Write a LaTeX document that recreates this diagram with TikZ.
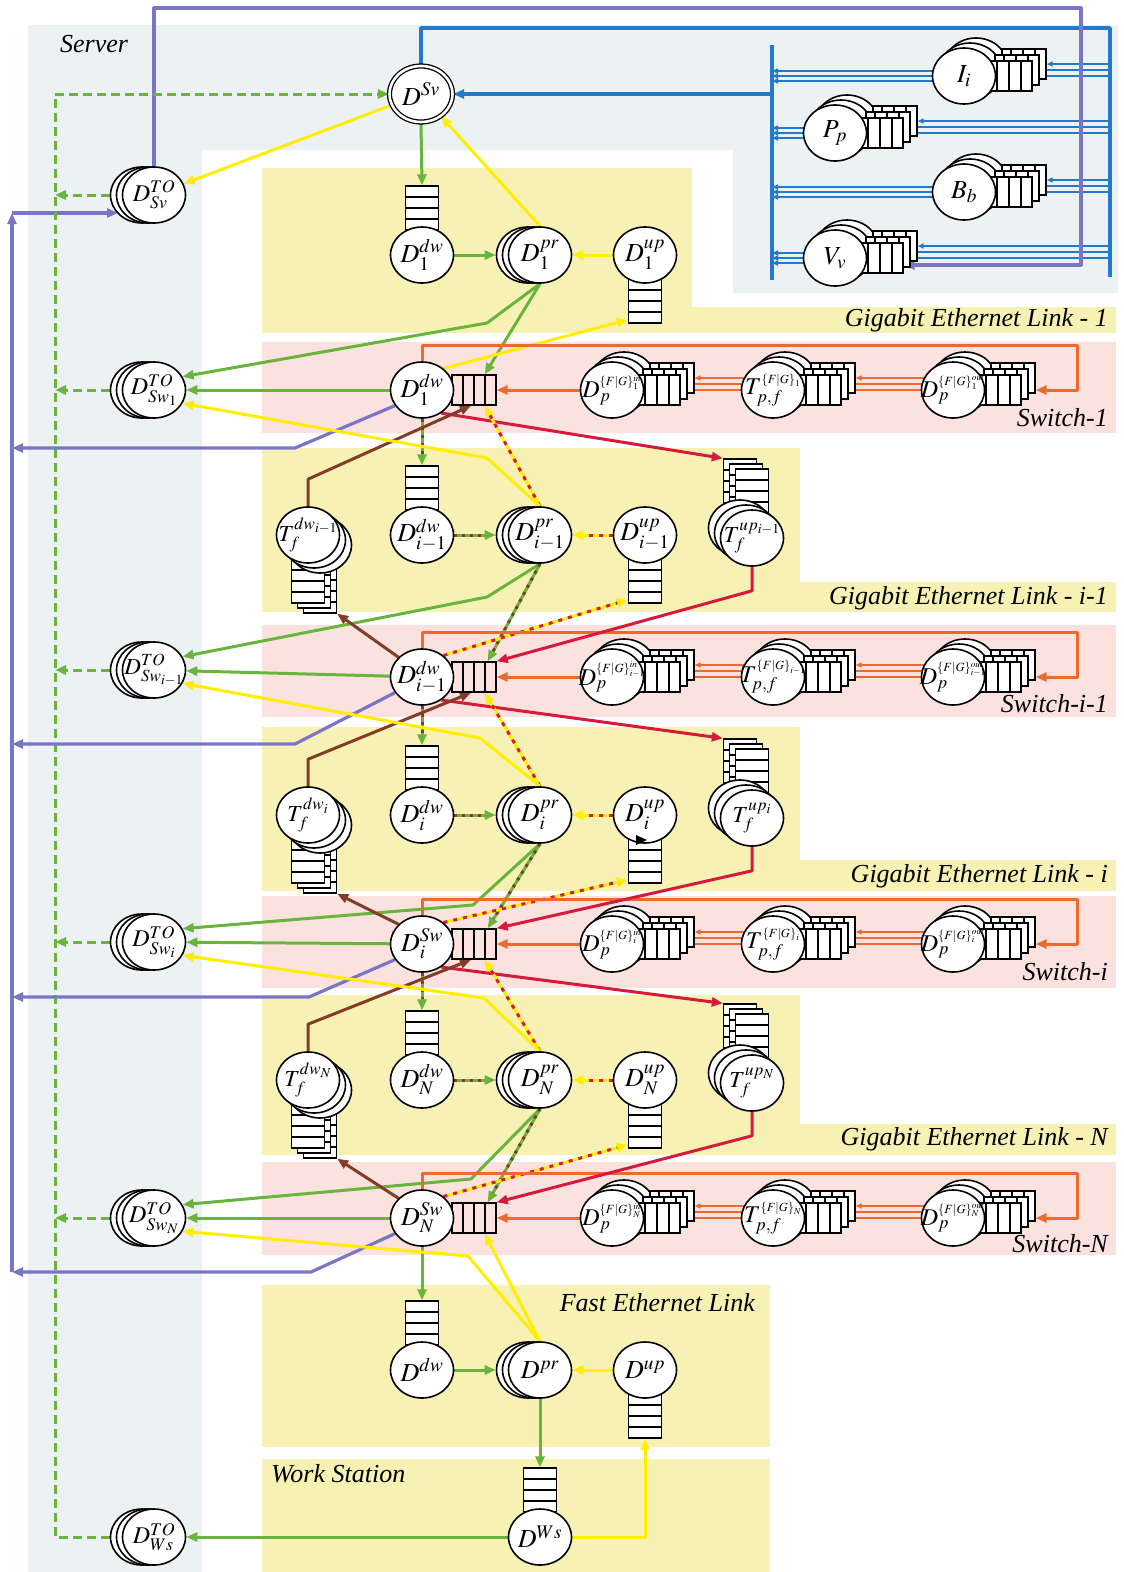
\documentclass[tikz,border=0pt]{standalone}
\usepackage{mathptmx}
\usepackage[no-math]{fontspec}
\setmainfont{Liberation Serif}
\usetikzlibrary{arrows.meta,shapes.geometric,calc}

\definecolor{cGreen}{RGB}{104,180,60}
\definecolor{cYel}{RGB}{255,238,0}
\definecolor{cPur}{RGB}{122,118,198}
\definecolor{cBlue}{RGB}{34,122,205}
\definecolor{cOr}{RGB}{237,106,46}
\definecolor{cRed}{RGB}{214,26,60}
\definecolor{cBr}{RGB}{132,60,40}
\definecolor{bgSrv}{RGB}{236,241,243}
\definecolor{bgYel}{RGB}{247,242,180}
\definecolor{bgPink}{RGB}{251,226,222}

\newcommand\nodefont{\fontsize{26}{28}\selectfont}
\newcommand\labfont{\fontsize{26}{28}\selectfont\itshape}
\newcommand\fsz[1]{\fontsize{#1}{#1}\selectfont}
% label that does not widen its ellipse
\newcommand\inlab[1]{\makebox[0pt]{#1}}
% small {F|G} superscript block of the switch stages
\newcommand\fgs[2]{\mbox{\fsz{12.5}$\{F|G\}^{#1}_{#2}$}}

\pgfdeclarelayer{boxes}
\pgfdeclarelayer{wires}
\pgfsetlayers{boxes,wires,main}

\tikzset{
  nd/.style={ellipse, draw, line width=1.6pt, fill=white, minimum width=63pt,
    minimum height=56pt, inner sep=0pt, font=\nodefont},
  dnd/.style={nd, double=white, double distance=2.6pt, line width=1.3pt},
  bkl/.style={draw, line width=1.6pt, fill=white},
  vq/.style={draw, line width=1.4pt, fill=white, minimum width=33pt, minimum height=44pt, inner sep=0pt,
    path picture={\foreach \k in {1,2,3}{\draw[line width=1.2pt]
      ([yshift={-11pt*\k}]path picture bounding box.north west) --
      ([yshift={-11pt*\k}]path picture bounding box.north east);}}},
  hq/.style={draw, line width=1.4pt, minimum width=44pt, minimum height=30pt, inner sep=0pt,
    path picture={\foreach \k in {1,2,3}{\draw[line width=1.2pt]
      ([xshift={11pt*\k}]path picture bounding box.north west) --
      ([xshift={11pt*\k}]path picture bounding box.south west);}}},
  sq/.style={draw, line width=1.4pt, fill=white, minimum width=44pt, minimum height=30pt, inner sep=0pt,
    path picture={\foreach \k in {9,21,33}{\draw[line width=1.2pt]
      ([xshift={1pt*\k}]path picture bounding box.north west) --
      ([xshift={1pt*\k}]path picture bounding box.south west);}}},
  lbl/.style={font=\labfont, inner sep=0pt},
  ahead/.style={-{Triangle[length=11pt,width=9pt]}},
  sahead/.style={-{Triangle[length=6pt,width=5pt]}},
  wr/.style={line width=3pt, line join=round},
  gA/.style={wr, draw=cGreen, ahead},
  yA/.style={wr, draw=cYel, ahead},
  pA/.style={wr, draw=cPur, line width=3.2pt, ahead},
  bA/.style={wr, draw=cBlue, line width=3.4pt},
  btA/.style={draw=cBlue, line width=1.6pt, sahead},
  oA/.style={wr, draw=cOr, ahead},
  otA/.style={draw=cOr, line width=1.4pt, sahead},
  rA/.style={wr, draw=cRed, ahead},
  brA/.style={wr, draw=cBr, ahead},
  gD/.style={wr, draw=cGreen, dash pattern=on 9pt off 5pt, ahead},
  gbA/.style={gA, postaction={draw=cBr, line width=3pt, dash pattern=on 3pt off 5pt, -, shorten >=11pt}},
  yrA/.style={yA, postaction={draw=cRed, line width=3pt, dash pattern=on 4pt off 6pt, -, shorten >=11pt}},
}

% node with a queue above it
\newcommand\plainup[4]{%
  \node[vq] (#1q) at (#2,#3-47) {};
  \node[nd] (#1) at (#2,#3) {\inlab{#4}};}
% node with a queue below it
\newcommand\plaindown[4]{%
  \node[vq] (#1q) at (#2,#3+46) {};
  \node[nd] (#1) at (#2,#3) {\inlab{#4}};}
% switch node with its input queue on the right
\newcommand\plainright[4]{%
  \node[hq] (#1q) at (#2+52,#3) {};
  \node[nd] (#1) at (#2,#3) {\inlab{#4}};}
% stacked node, copies behind to the left
\newcommand\stackleft[4]{%
  \foreach \d in {12,6}{\draw[bkl] (#2-\d,#3) ellipse[x radius=31.5pt, y radius=28pt];}
  \node[nd] (#1) at (#2,#3) {\inlab{#4}};}
% stacked node with stacked queues on the right, copies up-right
\newcommand\stackqueue[4]{%
  \foreach \d in {2,1}{%
    \draw[bkl] (#2+6*\d,#3-5*\d) ellipse[x radius=31.5pt, y radius=28pt];
    \node[sq] (#1q\d) at (#2+46+7*\d,#3-6*\d) {};}
  \node[sq] (#1q0) at (#2+46,#3) {};
  \node[nd] (#1) at (#2,#3) {\inlab{#4}};}
% downstream timer: stacked down-right, queues below
\newcommand\tdwstack[4]{%
  \foreach \d in {2,1}{\node[vq] (#1q\d) at (#2+6*\d,#3+46+5*\d) {};}
  \node[vq] (#1q0) at (#2,#3+46) {};
  \foreach \d in {2,1}{\draw[bkl] (#2+6*\d,#3+5*\d) ellipse[x radius=31.5pt, y radius=28pt];}
  \node[nd] (#1) at (#2,#3) {\inlab{#4}};}
% upstream timer: stacked up-left, queues above
\newcommand\tupstack[4]{%
  \foreach \d in {2,1}{\node[vq] (#1q\d) at (#2-6*\d,#3-47-5*\d) {};}
  \node[vq] (#1q0) at (#2,#3-47) {};
  \foreach \d in {2,1}{\draw[bkl] (#2-6*\d,#3-5*\d) ellipse[x radius=31.5pt, y radius=28pt];}
  \node[nd] (#1) at (#2,#3) {\inlab{#4}};}
% one gigabit link row (T_dw, D_dw, D_pr, D_up, T_up)
\newcommand\linkrow[3]{%
  \tdwstack{td#1}{308}{#2}{\fsz{23}$T_f^{dw_{#3}}$}
  \plainup{dw#1}{422}{#2}{$D_{#3}^{dw}$}
  \stackleft{pr#1}{540}{#2}{$D_{#3}^{pr}$}
  \plaindown{up#1}{645}{#2}{$D_{#3}^{up}$}
  \tupstack{tu#1}{752}{#2+3}{\fsz{23}$T_f^{up_{#3}}$}}
% one switch row
\newcommand\switchrow[4]{%
  \plainright{s#1}{422}{#2}{#3}
  \stackqueue{s#1in}{612}{#2}{\fsz{24}$D_p^{\fgs{in}{#4}}$}
  \stackqueue{s#1t}{773}{#2}{\fsz{24}$T_{p,f}^{\fgs{}{#4}}$}
  \stackqueue{s#1out}{953}{#2}{\fsz{24}$D_p^{\fgs{out}{#4}}$}}
% wiring inside a switch
\newcommand\switchwires[2]{%
  \draw[oA] (s#1.north) |- (1077,#2) |- (s#1outq2.east |- s#1.center);
  \draw[oA] (s#1in) -- (s#1q.east);
  \foreach \k in {0,1,2}{%
    \draw[otA] (s#1t.center |- s#1inq\k.east) -- (s#1inq\k.east);
    \draw[otA] (s#1out.center |- s#1tq\k.east) -- (s#1tq\k.east);}}

\begin{document}
\begin{tikzpicture}[x=1pt,y=-1pt]
\useasboundingbox (0,0) rectangle (1124,1572);

% ---------------- regions ----------------
\begin{pgfonlayer}{boxes}
\fill[bgSrv] (28,25) -- (1118,25) -- (1118,293) -- (733,293) -- (733,150)
  -- (202,150) -- (202,1572) -- (28,1572) -- cycle;
\fill[bgYel] (262,168) rectangle (692,333);
\fill[bgYel] (262,307) rectangle (1116,333);
\fill[bgPink] (262,342) rectangle (1116,433);
\fill[bgYel] (262,448) rectangle (800,612);
\fill[bgYel] (262,582) rectangle (1116,612);
\fill[bgPink] (262,625) rectangle (1116,717);
\fill[bgYel] (262,727) rectangle (800,891);
\fill[bgYel] (262,860) rectangle (1116,891);
\fill[bgPink] (262,896) rectangle (1116,988);
\fill[bgYel] (262,995) rectangle (800,1155);
\fill[bgYel] (262,1124) rectangle (1116,1155);
\fill[bgPink] (262,1162) rectangle (1116,1255);
\fill[bgYel] (262,1285) rectangle (770,1447);
\fill[bgYel] (262,1459) rectangle (770,1572);
\end{pgfonlayer}

% ---------------- captions ----------------
\node[lbl, anchor=west] (tServer) at (60,44) {Server};
\node[lbl, anchor=east] (tL1) at (1108,320) {Gigabit Ethernet Link - 1};
\node[lbl, anchor=east] (tS1) at (1108,418) {Switch-1};
\node[lbl, anchor=east] (tL2) at (1108,598) {Gigabit Ethernet Link - i-1};
\node[lbl, anchor=east] (tS2) at (1108,704) {Switch-i-1};
\node[lbl, anchor=east] (tL3) at (1108,876) {Gigabit Ethernet Link - i};
\node[lbl, anchor=east] (tS3) at (1108,972) {Switch-i};
\node[lbl, anchor=east] (tL4) at (1108,1139) {Gigabit Ethernet Link - N};
\node[lbl, anchor=east] (tS4) at (1108,1244) {Switch-N};
\node[lbl, anchor=east] (tLF) at (755,1303) {Fast Ethernet Link};
\node[lbl, anchor=west] (tWS) at (271,1474) {Work Station};

% ---------------- helper points ----------------
\coordinate (bTR) at (1110,28);
\coordinate (bBR) at (1110,277);
\coordinate (busT) at (772,45);
\coordinate (busB) at (772,280);
\coordinate (busD) at (772,94);
\coordinate (pTR) at (1081,8);
\coordinate (pvTop) at (12,213);
\coordinate (pvBot) at (12,1272);
\coordinate (gdTop) at (55,94);

% ---------------- server ----------------
\node[dnd] (Dsv) at (421,94) {\inlab{$D^{Sv}$}};
\stackleft{TOsv}{154}{195}{\fsz{24}$D^{TO}_{Sv}$}
\stackqueue{srcI}{964}{76}{$I_i$}
\stackqueue{srcP}{835}{133}{$P_p$}
\stackqueue{srcB}{964}{192}{$B_b$}
\stackqueue{srcV}{835}{258}{$V_v$}

% ---------------- links and switches ----------------
\plainup{dw1}{422}{255}{$D_1^{dw}$}
\stackleft{pr1}{540}{255}{$D_1^{pr}$}
\plaindown{up1}{645}{255}{$D_1^{up}$}

\switchrow{1}{390}{$D_1^{dw}$}{1}
\stackleft{TO1}{154}{390}{\fsz{24}$D^{TO}_{Sw_1}$}

\linkrow{2}{535}{i-1}
\switchrow{2}{677}{$D_{i-1}^{dw}$}{i-1}
\stackleft{TO2}{154}{670}{\fsz{23}$D^{TO}_{Sw_{i-1}}$}

\linkrow{3}{815}{i}
\switchrow{3}{944}{$D_i^{Sw}$}{i}
\stackleft{TO3}{154}{942}{\fsz{24}$D^{TO}_{Sw_i}$}

\linkrow{4}{1080}{N}
\switchrow{4}{1218}{$D_N^{Sw}$}{N}
\stackleft{TO4}{154}{1218}{\fsz{24}$D^{TO}_{Sw_N}$}

\plainup{dwf}{422}{1370}{$D^{dw}$}
\stackleft{prf}{540}{1370}{$D^{pr}$}
\plaindown{upf}{645}{1370}{$D^{up}$}

\plainup{ws}{540}{1537}{$D^{Ws}$}
\stackleft{TOws}{154}{1537}{\fsz{24}$D^{TO}_{Ws}$}

\fill (636,835) -- (647,840) -- (636,845) -- cycle;

% ---------------- connectors ----------------
\begin{pgfonlayer}{wires}
% server feeds
\draw[bA] (Dsv.north) |- (bTR) -- (bBR);
\draw[bA] (busT) -- (busB);
\draw[bA, ahead] (busD) -- (Dsv.east);
\foreach \src in {srcI,srcP,srcB,srcV}{%
  \foreach \dy in {-5,0,5}{%
    \path ($(\src.center)+(0,\dy)$) coordinate (tmpA);
    \draw[btA] (tmpA) -- (tmpA -| busT);}
  \foreach \k in {0,1,2}{\draw[btA] (\src q\k.east -| bTR) -- (\src q\k.east);}
}
\draw[pA] (TOsv.north) |- (pTR) |- ($(srcVq0.east)+(0,7)$);
\draw[pA] (pvBot) -- (pvTop);
\draw[pA] (pvTop) -- ([xshift=-36pt,yshift=-18pt]TOsv.center);
\draw[gD] ([xshift=-12pt]TOws.west) -| (gdTop) -- (Dsv.west);
\foreach \nn in {TOsv,TO1,TO2,TO3,TO4}{\draw[gD] ([xshift=-12pt]\nn.west) -- (\nn.west -| gdTop);}
\draw[gA] (Dsv.south) -- (dw1q.north);
\draw[yA] (pr1.north) -- (Dsv);
\draw[yA] (Dsv) -- (TOsv);

% link 1
\draw[gA] (dw1) -- ([xshift=-12pt]pr1.west);
\draw[yA] (up1) -- (pr1.east);

% switch 1
\draw[gA] (pr1.south) -- (487,323) -- (TO1.25);
\draw[gA] (pr1.south) -- ($(s1q.north east)+(-12,0)$);
\draw[gA] (s1) -- (TO1);
\draw[yA] (s1.45) -- ($(up1q.south west)+(0,-4)$);
\draw[pA] (s1.210) -- (295,448) -- (12,448);
\switchwires{1}{345}
\draw[rA] (s1.-50) -- (tu2q2.north west);
\draw[gbA] (s1.south) -- (dw2q.north);
\draw[brA] (td2.north) -- ++(0,-27) -- ($(s1q.south)+(-3,0)$);
\draw[yrA] (pr2.north) -- ($(s1q.south east)+(-12,0)$);
\draw[yA] (pr2.north) -- (487,458) -- (TO1.-25);

% links i-1, i, N
\foreach \lk in {2,3,4}{%
  \draw[gbA] (dw\lk) -- ([xshift=-12pt]pr\lk.west);
  \draw[yrA] (up\lk) -- (pr\lk.east);}

% switch i-1
\draw[gA] (pr2.south) -- (487,597) -- (TO2.25);
\draw[gbA] (pr2.south) -- ($(s2q.north east)+(-9,0)$);
\draw[gA] (s2) -- (TO2);
\draw[yrA] (s2.45) -- ($(up2q.south west)+(0,-4)$);
\draw[pA] (s2.210) -- (295,744) -- (12,744);
\switchwires{2}{632}
\draw[rA] (tu2.south) -- ++(0,24) -- (s2q.north east);
\draw[brA] (s2.140) -- (td2q2.south east);
\draw[rA] (s2.-50) -- (tu3q2.north west);
\draw[gbA] (s2.south) -- (dw3q.north);
\draw[brA] (td3.north) -- ++(0,-27) -- ($(s2q.south)+(-3,0)$);
\draw[yrA] (pr3.north) -- ($(s2q.south east)+(-12,0)$);
\draw[yA] (pr3.north) -- (480,738) -- (TO2.-25);

% switch i
\draw[gA] (pr3.south) -- (473,905) -- (TO3.25);
\draw[gbA] (pr3.south) -- ($(s3q.north east)+(-9,0)$);
\draw[gA] (s3) -- (TO3);
\draw[yrA] (s3.45) -- ($(up3q.south west)+(0,-4)$);
\draw[pA] (s3.210) -- (309,997) -- (12,997);
\switchwires{3}{899}
\draw[rA] (tu3.south) -- ++(0,24) -- (s3q.north east);
\draw[brA] (s3.140) -- (td3q2.south east);
\draw[rA] (s3.-50) -- (tu4q2.north west);
\draw[gbA] (s3.south) -- (dw4q.north);
\draw[brA] (td4.north) -- ++(0,-27) -- ($(s3q.south)+(-3,0)$);
\draw[yrA] (pr4.north) -- ($(s3q.south east)+(-12,0)$);
\draw[yA] (pr4.north) -- (484,998) -- (TO3.-25);

% switch N
\draw[gA] (pr4.south) -- (471,1179) -- (TO4.25);
\draw[gbA] (pr4.south) -- ($(s4q.north east)+(-9,0)$);
\draw[gA] (s4) -- (TO4);
\draw[yrA] (s4.45) -- ($(up4q.south west)+(0,-4)$);
\draw[pA] (s4.210) -- (311,1272) -- (pvBot);
\switchwires{4}{1173}
\draw[rA] (tu4.south) -- ++(0,24) -- (s4q.north east);
\draw[brA] (s4.140) -- (td4q2.south east);
\draw[gA] (s4.south) -- (dwfq.north);
\draw[yA] (prf.north) -- ($(s4q.south east)+(-12,0)$);
\draw[yA] (prf.north) -- (468,1256) -- (TO4.-25);

% fast ethernet link and work station
\draw[gA] (dwf) -- ([xshift=-12pt]prf.west);
\draw[yA] (upf) -- (prf.east);
\draw[gA] (prf.south) -- (wsq.north);
\draw[yA] (ws.east) -| (upfq.south);
\draw[gA] (ws) -- (TOws);
\end{pgfonlayer}
\end{tikzpicture}
\end{document}
